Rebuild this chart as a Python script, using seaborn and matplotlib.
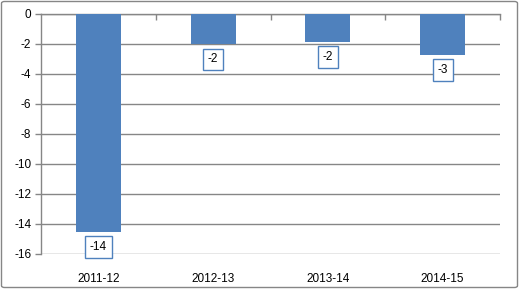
import matplotlib
matplotlib.use("Agg")
import matplotlib.pyplot as plt
import seaborn as sns
import pandas as pd
from matplotlib.patches import FancyBboxPatch
from matplotlib.ticker import FixedLocator

categories = ["2011-12", "2012-13", "2013-14", "2014-15"]
values = [-14.5, -2.0, -1.85, -2.7]
labels = ["-14", "-2", "-2", "-3"]
yticks = [0, -2, -4, -6, -8, -10, -12, -14, -16]

sns.set_theme(style="white")
plt.rcParams['font.family'] = ['Liberation Sans', 'DejaVu Sans']

df = pd.DataFrame({"cat": categories, "val": values})

W, H = 519, 289
fig = plt.figure(figsize=(W / 100, H / 100), dpi=100)
ax = fig.add_axes([41 / W, 1 - 254 / H, (500 - 41) / W, (254 - 14) / H])

blue = "#4F81BD"
grid = "#868686"

sns.barplot(data=df, x="cat", y="val", color=blue, width=0.39, ax=ax,
            saturation=1, zorder=3, linewidth=0, edgecolor="none")

ax.set_ylim(-16, 0)
ax.set_xlim(-0.5, 3.5)
ax.set_yticks(yticks)
ax.set_yticklabels([str(t) for t in yticks], fontsize=8.5, color="black")
ax.set_xlabel("")
ax.set_ylabel("")
ax.yaxis.grid(True, color=grid, linewidth=1, zorder=0)
ax.set_axisbelow(True)

for s in ["right", "bottom"]:
    ax.spines[s].set_visible(False)
ax.spines["left"].set_color(grid)
ax.spines["top"].set_color(grid)
ax.spines["left"].set_linewidth(1)
ax.spines["top"].set_linewidth(1)

ax.tick_params(axis="y", left=True, length=4, color=grid, width=1, pad=3, direction="out")
ax.tick_params(axis="x", which="major", bottom=False, top=False, labelsize=8.5, pad=8, labelcolor="black")
ax.xaxis.set_minor_locator(FixedLocator([0.5, 1.5, 2.5, 3.5]))
ax.tick_params(axis="x", which="minor", top=True, bottom=False, direction="in",
               length=4, color=grid, width=1)

for i, (v, lab) in enumerate(zip(values, labels)):
    ax.annotate(lab, (i, v), xytext=(0, -11), textcoords="offset points",
                ha="center", va="center", fontsize=8.5, color="black",
                bbox=dict(boxstyle="square,pad=0.4", fc="white", ec=blue, lw=1),
                zorder=5, annotation_clip=False)

border = FancyBboxPatch((1.5 / W, 1.5 / H), 1 - 3 / W, 1 - 3 / H,
                        boxstyle="round,pad=0,rounding_size=0.006",
                        transform=fig.transFigure, fc="none", ec=grid, lw=1)
fig.patches.append(border)

fig.savefig("out.png", dpi=100)
